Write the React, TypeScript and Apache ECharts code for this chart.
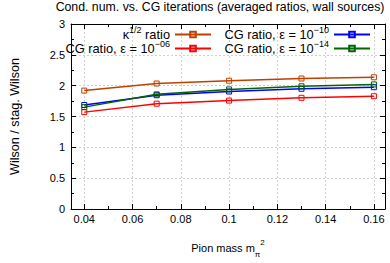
import React, { useEffect, useRef } from 'react';
import * as echarts from 'echarts';

// Data
const xValues = [0.04, 0.07, 0.1, 0.13, 0.16];
const kappaRatio = [1.92, 2.035, 2.08, 2.116, 2.136];
const cgRatio06 = [1.571, 1.708, 1.758, 1.803, 1.829];
const cgRatio10 = [1.686, 1.845, 1.905, 1.95, 1.975];
const cgRatio14 = [1.652, 1.859, 1.939, 1.99, 2.02];

const xMajorTicks = [0.04, 0.06, 0.08, 0.1, 0.12, 0.14, 0.16];
const xMinorTicks = [0.05, 0.07, 0.09, 0.11, 0.13, 0.15];

const seriesNames = ['kappa', 'cg06', 'cg10', 'cg14'];
const seriesLabels: Record<string, string> = {
  kappa: '{n|κ}{s|1/2}{n| ratio}',
  cg06: '{n|CG ratio, ε = 10}{s|−06}',
  cg10: '{n|CG ratio, ε = 10}{s|−10}',
  cg14: '{n|CG ratio, ε = 10}{s|−14}',
};
const seriesColors = ['#c04000', '#ff0000', '#0000ff', '#006400'];
const seriesValues = [kappaRatio, cgRatio06, cgRatio10, cgRatio14];

const titleText = 'Cond. num. vs. CG iterations (averaged ratios, wall sources)';
const yName = 'Wilson / stag. Wilson';
const xName = '{n|Pion mass m}{sub|π}{sup|2}';

const FONT = '"Liberation Sans", Arial, Helvetica, sans-serif';

export default function App() {
  const ref = useRef<HTMLDivElement>(null);
  useEffect(() => {
    document.body.style.margin = '0';
    if (!ref.current) return;
    const chart = echarts.init(ref.current, null, { renderer: 'svg' });

    const X_MIN = 0.0345;
    const X_MAX = 0.1646;

    const legNormal = { fontSize: 12.8, lineHeight: 19, verticalAlign: 'middle', color: '#000', fontFamily: FONT };
    const legSup = { fontSize: 9, lineHeight: 9, verticalAlign: 'top', color: '#000', fontFamily: FONT };
    const normal = { fontSize: 11, lineHeight: 20, verticalAlign: 'middle', color: '#000', fontFamily: FONT };
    const sup = { fontSize: 8, lineHeight: 8, verticalAlign: 'top', color: '#000', fontFamily: FONT };
    const sub = { fontSize: 8, lineHeight: 8, verticalAlign: 'bottom', color: '#000', fontFamily: FONT };

    const legendPos = [
      { top: 25, right: 178 },
      { top: 39, right: 178 },
      { top: 25, right: 19 },
      { top: 39, right: 19 },
    ];

    const xAxisBase = {
      type: 'value',
      min: X_MIN,
      max: X_MAX,
      gridIndex: 0,
    };

    const option: any = {
      animation: false,
      textStyle: { fontFamily: FONT },
      graphic: [
        {
          type: 'text',
          x: 220,
          y: 7,
          style: {
            text: titleText,
            fontSize: 12.3,
            fontFamily: FONT,
            fill: '#000',
            textAlign: 'center',
            textVerticalAlign: 'middle',
          },
        },
      ],
      legend: seriesNames.map((name, i) => ({
        data: [name],
        ...legendPos[i],
        orient: 'horizontal',
        align: 'right',
        padding: 0,
        itemWidth: 36,
        itemHeight: 7,
        selectedMode: false,
        formatter: (nm: string) => seriesLabels[nm],
        textStyle: { rich: { n: legNormal, s: legSup }, fontSize: 12.8, color: '#000' },
      })),
      grid: { left: 57, right: 5, top: 24, height: 198, containLabel: false },
      xAxis: [
        {
          ...xAxisBase,
          position: 'bottom',
          name: xName,
          nameLocation: 'middle',
          nameGap: 29,
          nameTextStyle: { rich: { n: normal, sub, sup } },
          axisLine: { show: true, onZero: false, lineStyle: { color: '#000', width: 1 } },
          axisTick: { show: true, inside: true, length: 5, customValues: xMajorTicks, lineStyle: { color: '#000' } },
          axisLabel: {
            show: true,
            customValues: xMajorTicks,
            margin: 4,
            fontSize: 11,
            color: '#000',
            formatter: (v: number) => String(Math.round(v * 100) / 100),
          },
          splitLine: { show: true, lineStyle: { color: '#d0d0d0', type: [2, 2], width: 1 } },
        },
        {
          ...xAxisBase,
          position: 'bottom',
          axisLine: { show: false, onZero: false },
          axisTick: { show: true, inside: true, length: 3, customValues: xMinorTicks, lineStyle: { color: '#000' } },
          axisLabel: { show: false },
          splitLine: { show: false },
        },
        {
          ...xAxisBase,
          position: 'top',
          axisLine: { show: true, onZero: false, lineStyle: { color: '#000', width: 1 } },
          axisTick: { show: true, inside: true, length: 5, customValues: xMajorTicks, lineStyle: { color: '#000' } },
          axisLabel: { show: false },
          splitLine: { show: false },
        },
        {
          ...xAxisBase,
          position: 'top',
          axisLine: { show: false, onZero: false },
          axisTick: { show: true, inside: true, length: 3, customValues: xMinorTicks, lineStyle: { color: '#000' } },
          axisLabel: { show: false },
          splitLine: { show: false },
        },
      ],
      yAxis: [
        {
          type: 'value',
          position: 'left',
          min: 0,
          max: 3,
          interval: 0.5,
          name: yName,
          nameLocation: 'middle',
          nameRotate: 90,
          nameGap: 50,
          nameTextStyle: { fontSize: 12.6, color: '#000', fontFamily: FONT },
          axisLine: { show: true, onZero: false, lineStyle: { color: '#000', width: 1 } },
          axisTick: { show: true, inside: true, length: 5, lineStyle: { color: '#000' } },
          minorTick: { show: true, splitNumber: 2, length: 3, lineStyle: { color: '#000' } },
          axisLabel: { show: true, margin: 6, fontSize: 11, color: '#000' },
          splitLine: { show: true, lineStyle: { color: '#d0d0d0', type: [2, 2], width: 1 } },
        },
        {
          type: 'value',
          position: 'right',
          min: 0,
          max: 3,
          interval: 0.5,
          axisLine: { show: true, onZero: false, lineStyle: { color: '#000', width: 1 } },
          axisTick: { show: true, inside: true, length: 5, lineStyle: { color: '#000' } },
          minorTick: { show: true, splitNumber: 2, length: 3, lineStyle: { color: '#000' } },
          axisLabel: { show: false },
          splitLine: { show: false },
        },
      ],
      series: seriesNames.map((name, i) => ({
        name,
        type: 'line',
        xAxisIndex: 0,
        yAxisIndex: 0,
        data: xValues.map((x, j) => [x, seriesValues[i][j]]),
        symbol: 'rect',
        symbolSize: 5,
        showSymbol: true,
        lineStyle: { color: seriesColors[i], width: 1.5 },
        itemStyle: { color: 'rgba(255,255,255,0)', borderColor: seriesColors[i], borderWidth: 1 },
        emphasis: { disabled: true },
        z: 2 + i,
      })),
    };

    chart.setOption(option);
    return () => chart.dispose();
  }, []);

  return <div ref={ref} style={{ width: 390, height: 263 }} />;
}
